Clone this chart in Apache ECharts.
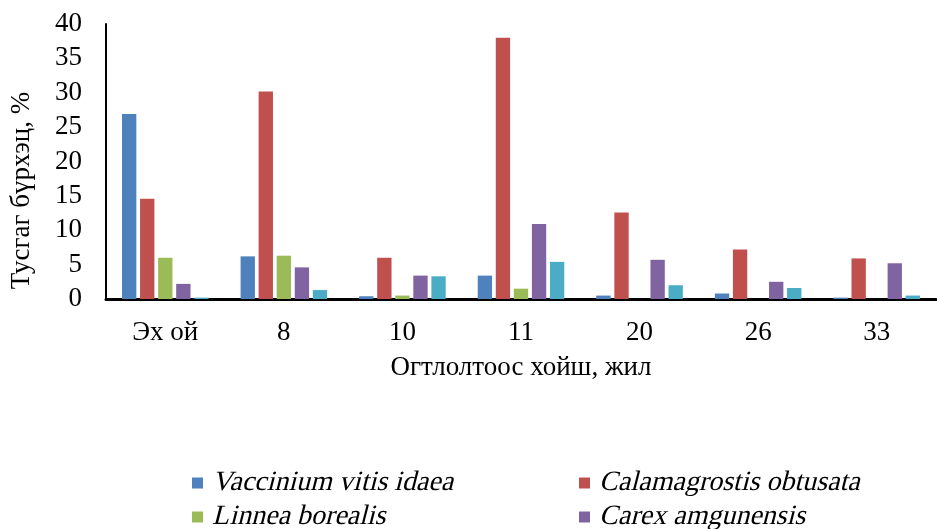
<!DOCTYPE html>
<html>
<head>
<meta charset="utf-8">
<script src="https://cdn.jsdelivr.net/npm/echarts@6/dist/echarts.min.js"></script>
<style>
  html, body { margin: 0; padding: 0; background: #fff; }
  #chart { width: 937px; height: 529px; }
</style>
</head>
<body>
<div id="chart"></div>
<script>
// Years since logging (first group is the original forest)
const categories = ['Эх ой', '8', '10', '11', '20', '26', '33'];

// Projective cover, % per species
const vaccinium    = [26.9, 6.2, 0.4, 3.4, 0.5, 0.8, 0.2];
const calamagrost  = [14.6, 30.2, 6.0, 38.0, 12.6, 7.2, 5.9];
const linnea       = [6.0, 6.3, 0.5, 1.5, 0, 0, 0];
const carex        = [2.2, 4.6, 3.4, 10.9, 5.7, 2.5, 5.2];
const fifthSpecies = [0.2, 1.3, 3.3, 5.4, 2.0, 1.6, 0.5];

const seriesNames = [
  'Vaccinium vitis idaea',
  'Calamagrostis obtusata',
  'Linnea borealis',
  'Carex amgunensis',
  'Бусад'
];
const seriesValues = [vaccinium, calamagrost, linnea, carex, fifthSpecies];
const colors = ['#4F81BD', '#C0504D', '#9BBB59', '#8064A2', '#4BACC6'];

const yTicks = { min: 0, max: 40, interval: 5 };

const FONT = '"Liberation Serif", "Times New Roman", serif';
const FS = 27;

const chart = echarts.init(document.getElementById('chart'), null, { renderer: 'canvas' });

// Two-column key: species index, swatch left edge, row centre
const keyLayout = [
  { idx: 0, x: 192, y: 483 },
  { idx: 1, x: 579, y: 483 },
  { idx: 2, x: 192, y: 517 },
  { idx: 3, x: 579, y: 517 }
];

// Species names are set slanted (skewed serif) so they read as italics
const keyGraphics = [];
keyLayout.forEach(k => {
  keyGraphics.push({
    type: 'rect',
    shape: { x: k.x, y: k.y - 5.5, width: 11, height: 11 },
    style: { fill: colors[k.idx] }
  });
  keyGraphics.push({
    type: 'text',
    x: k.x + 22,
    y: k.y,
    skewX: -0.25,
    style: {
      text: seriesNames[k.idx],
      font: '28px "Liberation Serif", "Times New Roman", serif',
      fill: '#000',
      verticalAlign: 'middle',
      align: 'left'
    }
  });
});

chart.setOption({
  animation: false,
  color: colors,
  grid: { left: 106, right: 1, top: 24, bottom: 230, containLabel: false },
  graphic: keyGraphics,
  xAxis: {
    type: 'category',
    data: categories,
    name: 'Огтлолтоос хойш, жил',
    nameLocation: 'middle',
    nameGap: 55,
    nameTextStyle: { fontFamily: FONT, fontSize: FS, color: '#000' },
    axisLine: { lineStyle: { color: '#000', width: 3 } },
    axisTick: { show: false },
    axisLabel: { fontFamily: FONT, fontSize: FS, color: '#000', margin: 20 }
  },
  yAxis: {
    type: 'value',
    min: yTicks.min,
    max: yTicks.max,
    interval: yTicks.interval,
    name: 'Тусгаг бүрхэц, %',
    nameLocation: 'middle',
    nameGap: 71,
    nameTextStyle: { fontFamily: FONT, fontSize: FS, color: '#000', padding: [0, 58, 0, 0] },
    axisLine: { show: true, lineStyle: { color: '#000', width: 2 } },
    axisTick: { show: false },
    splitLine: { show: false },
    axisLabel: { fontFamily: FONT, fontSize: FS, color: '#000', margin: 24 }
  },
  series: seriesNames.map((name, i) => ({
    name: name,
    type: 'bar',
    data: seriesValues[i],
    barGap: '26%',
    barCategoryGap: '27%',
    itemStyle: { color: colors[i] }
  }))
});
</script>
</body>
</html>
